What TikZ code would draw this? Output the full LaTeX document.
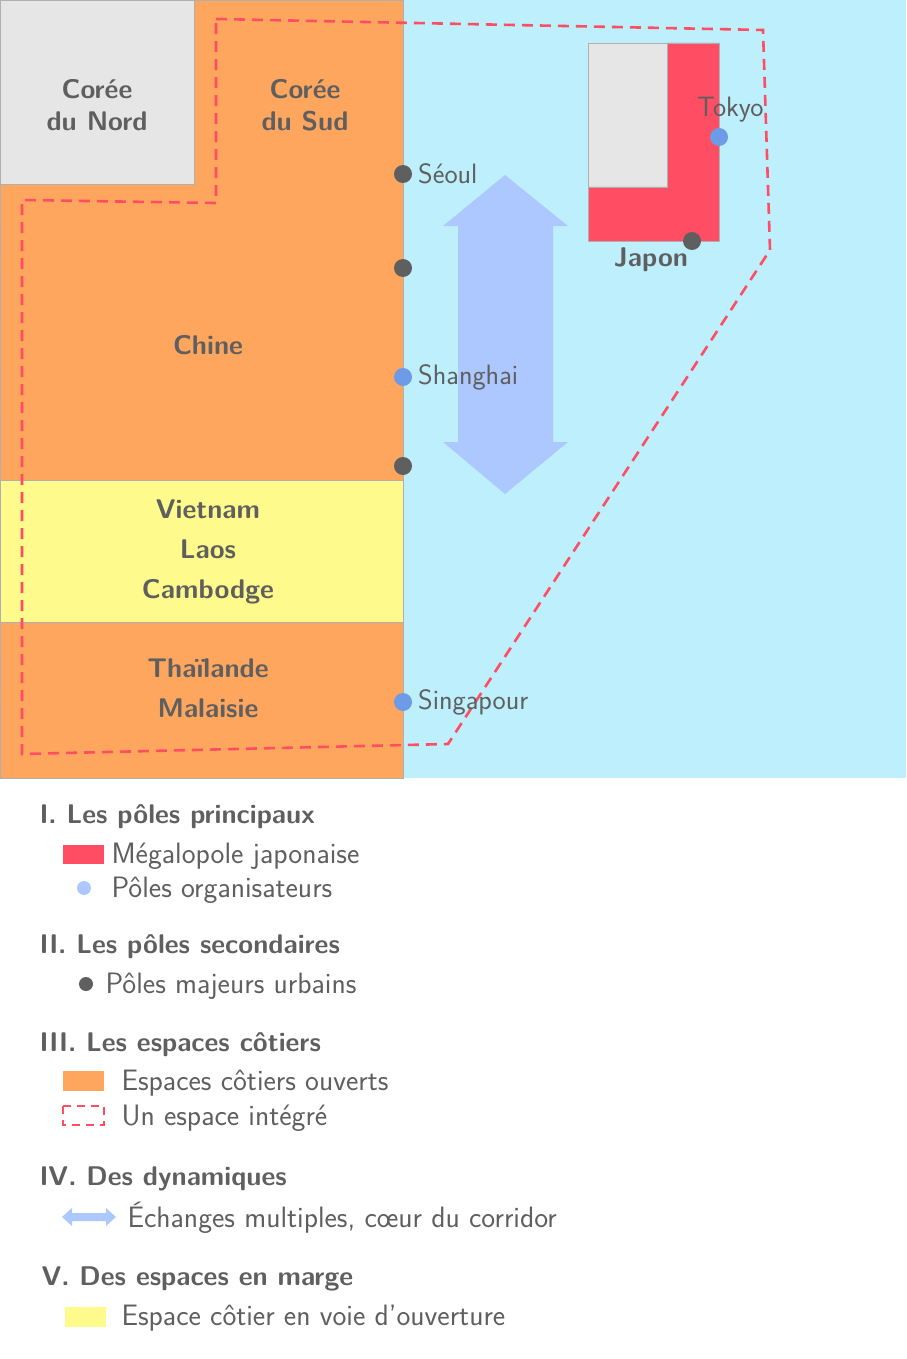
\documentclass[tikz,border=0pt]{standalone}
\usepackage{tikz}
\definecolor{sea}{HTML}{BDEFFD}
\definecolor{nk}{HTML}{E6E6E6}
\definecolor{ora}{HTML}{FFA65E}
\definecolor{yel}{HTML}{FFFA8C}
\definecolor{meg}{HTML}{FF4D64}
\definecolor{dk}{HTML}{5F5F5F}
\definecolor{bl}{HTML}{6E9BE8}
\definecolor{lbl}{HTML}{ADC8FF}
\definecolor{bd}{HTML}{B0B0B0}
\begin{document}
\begin{tikzpicture}[x=1pt,y=-1pt,font=\sffamily\fontsize{26}{30}\selectfont,
  lab/.style={text=dk,font=\sffamily\bfseries\fontsize{27}{42}\selectfont,align=center},
  city/.style={text=dk,anchor=west,inner sep=1pt,font=\sffamily\fontsize{28}{30}\selectfont},
  dkdot/.style={circle,fill=dk,inner sep=0pt,minimum size=18pt},
  bldot/.style={circle,fill=bl,inner sep=0pt,minimum size=18pt},
  head/.style={text=dk,anchor=west,font=\sffamily\bfseries\fontsize{27}{30}\selectfont},
  item/.style={text=dk,anchor=west,font=\sffamily\fontsize{29.5}{30}\selectfont}]
\useasboundingbox (0,0) rectangle (906,1359);
\fill[white] (0,0) rectangle (906,1359);
\fill[sea] (403,0) rectangle (906,778);
\fill[ora,draw=bd] (194,0) -- (403,0) -- (403,480) -- (0,480) -- (0,184) -- (194,184) -- cycle;
\fill[nk,draw=bd] (0,0) rectangle (194,184);
\fill[yel,draw=bd] (0,480) rectangle (403,622);
\fill[ora,draw=bd] (0,622) rectangle (403,778);
% Japan
\fill[nk,draw=bd] (588,43) rectangle (667,187);
\fill[meg,draw=bd] (667,43) -- (719,43) -- (719,241) -- (588,241) -- (588,187) -- (667,187) -- cycle;
% dashed area
\draw[meg,line width=2.6pt,dash pattern=on 11pt off 7pt] (216,19) -- (763,30) -- (770,250) -- (448,744) -- (22,754) -- (22,200) -- (216,203) -- cycle;
% arrow
\fill[lbl] (505,175) -- (568,226) -- (553,226) -- (553,442) -- (568,442) -- (505,494) -- (443,442) -- (458,442) -- (458,226) -- (443,226) -- cycle;
% labels
\node[lab] (cn) at (97,105) {Corée\\[-10pt]du Nord};
\node[lab] (cs) at (305,105) {Corée\\[-10pt]du Sud};
\node[lab] (ch) at (208,345) {Chine};
\node[lab] (vl) at (208,552) {Vietnam\\[-2pt]Laos\\[-2pt]Cambodge};
\node[lab] (tm) at (208,688) {Thaïlande\\[-2pt]Malaisie};
\node[lab] (jp) at (651,260) {Japon};
% dots
\node[dkdot] (d1) at (403,174) {};
\node[dkdot] (d2) at (403,268) {};
\node[dkdot] (d3) at (403,466) {};
\node[dkdot] (d4) at (692,241) {};
\node[bldot] (b1) at (403,377) {};
\node[bldot] (b2) at (403,702) {};
\node[bldot] (b3) at (719,137) {};
\node[city] at (417,174) {Séoul};
\node[city] at (417,377) {Shanghai};
\node[city] at (417,702) {Singapour};
\node[city] at (696,110) {Tokyo};
% legend
\node[head] at (36,817) {I. Les pôles principaux};
\fill[meg] (63,845) rectangle (104,864);
\node[item] at (108,856) {Mégalopole japonaise};
\fill[lbl] (84,888) circle (7pt);
\node[item] at (108,890) {Pôles organisateurs};
\node[head] at (36,947) {II. Les pôles secondaires};
\fill[dk] (86,984) circle (7pt);
\node[item] at (102,986) {Pôles majeurs urbains};
\node[head] at (36,1045) {III. Les espaces côtiers};
\fill[ora] (63,1071) rectangle (104,1091);
\node[item] at (118,1083) {Espaces côtiers ouverts};
\draw[meg,line width=2.4pt,dash pattern=on 8pt off 6pt] (63,1106) rectangle (104,1125);
\node[item] at (118,1118) {Un espace intégré};
\node[head] at (36,1179) {IV. Des dynamiques};
\fill[lbl] (62,1217) -- (72,1208) -- (72,1213) -- (106,1213) -- (106,1208) -- (116,1217) -- (106,1226) -- (106,1221) -- (72,1221) -- (72,1226) -- cycle;
\node[item] at (124,1218) {Échanges multiples, cœur du corridor};
\node[head] at (38,1279) {V. Des espaces en marge};
\fill[yel] (65,1307) rectangle (106,1327);
\node[item] at (118,1318) {Espace côtier en voie d'ouverture};
\end{tikzpicture}
\end{document}
